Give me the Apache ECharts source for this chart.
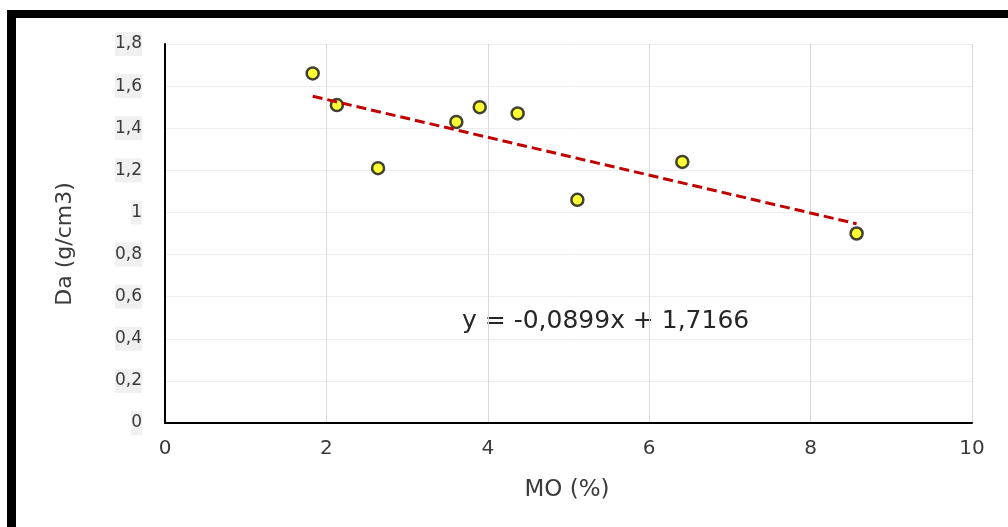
<!DOCTYPE html>
<html>
<head>
<meta charset="utf-8">
<script src="https://cdn.jsdelivr.net/npm/echarts@6/dist/echarts.min.js"></script>
<style>
html,body{margin:0;padding:0;background:#fff;}
#chart{width:1008px;height:527px;}
</style>
</head>
<body>
<div id="chart"></div>
<script>
// Data
const moValues = [1.83, 2.13, 2.64, 3.61, 3.90, 4.37, 5.11, 6.41, 8.57];
const daValues = [1.66, 1.51, 1.21, 1.43, 1.50, 1.47, 1.06, 1.24, 0.90];
const trendX = [1.83, 8.57];
const trendY = [1.552, 0.946];
const equationText = 'y = -0,0899x + 1,7166';
const xTitle = 'MO (%)';
const yTitle = 'Da (g/cm3)';

const points = moValues.map((x, i) => [x, daValues[i]]);
const trend = trendX.map((x, i) => [x, trendY[i]]);

const FONT = 'DejaVu Sans';
const TXT = '#3a3a3a';

const chart = echarts.init(document.getElementById('chart'), null, {renderer: 'canvas'});
chart.setOption({
  backgroundColor: '#ffffff',
  animation: false,
  grid: {left: 165, top: 44, right: 36, bottom: 104, containLabel: false},
  xAxis: {
    type: 'value', min: 0, max: 10, interval: 2,
    axisLine: {show: true, onZero: false, lineStyle: {color: '#000', width: 2}},
    axisTick: {show: false},
    axisLabel: {color: TXT, fontFamily: FONT, fontSize: 20, margin: 16},
    splitLine: {show: true, lineStyle: {color: '#d9d9d9', width: 1}}
  },
  yAxis: {
    type: 'value', min: 0, max: 1.8, interval: 0.2,
    axisLine: {show: true, onZero: false, lineStyle: {color: '#000', width: 2}},
    axisTick: {show: false},
    axisLabel: {
      color: TXT, fontFamily: FONT, fontSize: 17, margin: 23,
      backgroundColor: '#f0f0f0', padding: [4, 0, 3, 0],
      formatter: v => String(Math.round(v * 10) / 10).replace('.', ',')
    },
    splitLine: {show: true, lineStyle: {color: '#ececec', width: 1}}
  },
  series: [
    {
      type: 'scatter', data: points, z: 3,
      symbol: 'circle', symbolSize: 12,
      itemStyle: {color: '#ffff00', borderColor: '#111', borderWidth: 2.5}
    },
    {
      type: 'line', data: trend, z: 4, symbol: 'none',
      lineStyle: {color: '#c00000', width: 3, type: [10, 5]}
    }
  ],
  graphic: [
    {type: 'rect', shape: {x: 7, y: 10, width: 1010, height: 8}, style: {fill: '#000'}},
    {type: 'rect', shape: {x: 7, y: 10, width: 9, height: 530}, style: {fill: '#000'}},
    {type: 'text', x: 462, y: 321, style: {text: equationText, fill: '#262626', font: '25px "DejaVu Sans"', textAlign: 'left', textVerticalAlign: 'middle'}},
    {type: 'text', x: 567, y: 490, style: {text: xTitle, fill: TXT, font: '23px "DejaVu Sans"', textAlign: 'center', textVerticalAlign: 'middle'}},
    {type: 'text', x: 65, y: 244, rotation: Math.PI / 2, style: {text: yTitle, fill: TXT, font: '22px "DejaVu Sans"', textAlign: 'center', textVerticalAlign: 'middle'}}
  ]
});
</script>
</body>
</html>
